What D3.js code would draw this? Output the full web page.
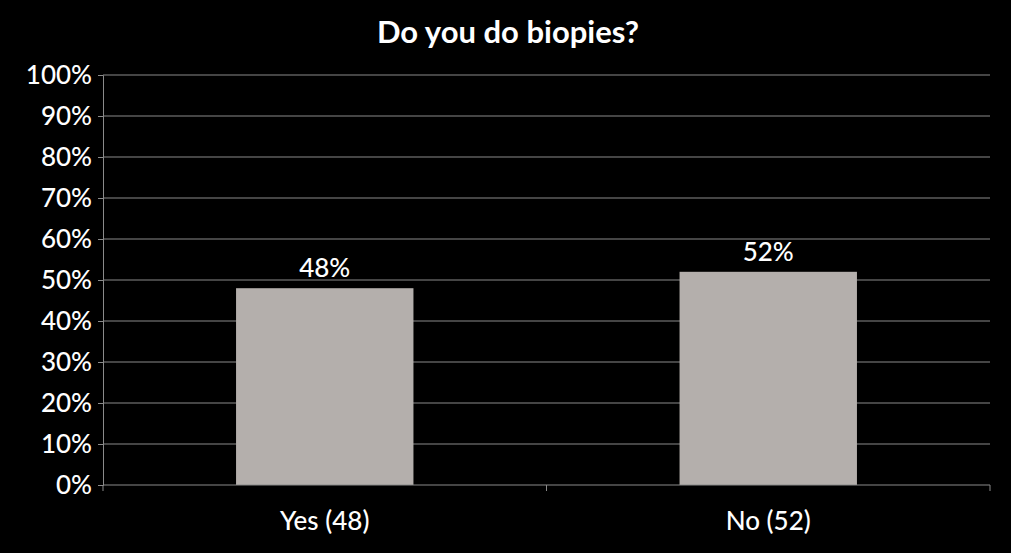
<!DOCTYPE html>
<html><head><meta charset="utf-8">
<script src="https://cdn.jsdelivr.net/npm/d3@7"></script>
<style>body{margin:0;background:#000}svg{display:block}</style>
</head><body><svg id="c" width="1011" height="553"></svg>
<script>
const categories = ["Yes (48)", "No (52)"];
const values = [48, 52];
const yTicks = [0,10,20,30,40,50,60,70,80,90,100];
const title = "Do you do biopies?";

const svg = d3.select("#c");
svg.append("rect").attr("width",1011).attr("height",553).attr("fill","#000");
const L=103,R=990,T=75,B=485;
const x=d3.scaleBand().domain(categories).range([L,R]).paddingInner(0.6).paddingOuter(0.3);
const y=d3.scaleLinear().domain([0,100]).range([B,T]);
const font="Lato, 'Open Sans', sans-serif";
svg.append("g").selectAll("line").data(yTicks.filter(d=>d>0)).join("line")
 .attr("x1",L).attr("x2",R).attr("y1",d=>y(d)).attr("y2",d=>y(d))
 .attr("stroke","#8a8a8a").attr("stroke-width",1);
const ya=svg.append("g").attr("transform",`translate(${L},0)`).call(d3.axisLeft(y).tickValues(yTicks).tickFormat(d=>d+"%").tickSize(5));
ya.select(".domain").attr("stroke","#8a8a8a");
ya.selectAll(".tick line").attr("stroke","#8a8a8a");
ya.selectAll("text").attr("fill","#fff").style("font-family",font).style("font-size","26px").style("font-weight","500").attr("x",-11);
svg.append("g").selectAll("rect").data(values).join("rect")
 .attr("x",(d,i)=>x(categories[i])).attr("width",x.bandwidth())
 .attr("y",d=>y(d)).attr("height",d=>B-y(d)).attr("fill","#b4afac");
svg.append("g").selectAll("text").data(values).join("text")
 .attr("x",(d,i)=>x(categories[i])+x.bandwidth()/2).attr("y",d=>y(d)-11)
 .attr("text-anchor","middle").attr("fill","#fff").style("font-family",font).style("font-size","26px").style("font-weight","500")
 .text(d=>d+"%");
svg.append("line").attr("x1",L).attr("x2",R).attr("y1",B).attr("y2",B).attr("stroke","#8a8a8a");
const sep=[L,(L+R)/2,R];
svg.append("g").selectAll("line").data(sep).join("line").attr("x1",d=>d).attr("x2",d=>d)
 .attr("y1",B).attr("y2",B+6).attr("stroke","#8a8a8a");
svg.append("g").selectAll("text").data(categories).join("text")
 .attr("x",d=>x(d)+x.bandwidth()/2).attr("y",530).attr("text-anchor","middle")
 .attr("fill","#fff").style("font-family",font).style("font-size","26px").style("font-weight","500").text(d=>d);
svg.append("text").attr("x",508).attr("y",43).attr("text-anchor","middle").attr("fill","#fff")
 .style("font-family",font).style("font-size","31px").style("font-weight","bold").text(title);
</script></body></html>
